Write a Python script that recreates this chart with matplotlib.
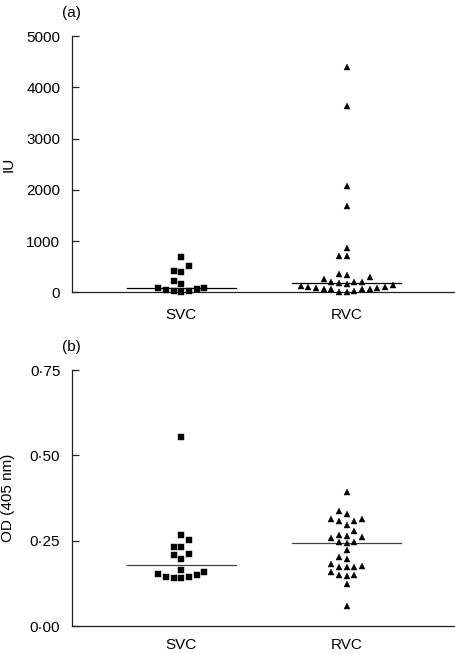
import numpy as np
import matplotlib
matplotlib.use('Agg')
import matplotlib.pyplot as plt

plt.rcParams['font.family'] = ['Liberation Sans', 'DejaVu Sans']
plt.rcParams['font.size'] = 11

groups = ['SVC', 'RVC']

# (a) IU
iu_svc = [694, 519, 421, 390, 220, 168, 78, 75, 19, 6, 19, 39, 64]
iu_rvc = [4401, 3634, 2074, 1684, 858, 708, 708, 337, 351, 292, 253,
          207, 175, 162, 195, 207, 142, 129, 97, 90, 71, 64,
          25, 12, 12, 64, 71, 78, 97]

# (b) OD (405 nm)
od_svc = [0.555, 0.267, 0.252, 0.232, 0.232, 0.208, 0.212, 0.195,
          0.157, 0.149, 0.145, 0.141, 0.141, 0.145, 0.152, 0.164]
od_rvc = [0.394, 0.337, 0.327, 0.313, 0.308, 0.309, 0.313, 0.295,
          0.279, 0.267, 0.265, 0.259, 0.260, 0.245, 0.243, 0.246,
          0.222, 0.203, 0.195, 0.172, 0.182, 0.176, 0.172, 0.172,
          0.157, 0.149, 0.149, 0.147, 0.123, 0.060]

iu_ticks = [0, 1000, 2000, 3000, 4000, 5000]
iu_labels = ['0', '1000', '2000', '3000', '4000', '5000']
od_ticks = [0, 0.25, 0.5, 0.75]
od_labels = ['0\u00b700', '0\u00b725', '0\u00b750', '0\u00b775']


def swarm_cols(vals, px_per_unit, d=7.0):
    # greedy column placement, like a column scatter plot
    vals = np.asarray(vals, float)
    order = np.argsort(vals)
    cols = {}
    out = np.zeros(len(vals))
    tries = [0]
    for k in range(1, 15):
        tries += [-k, k]
    for i in order:
        y = vals[i] * px_per_unit
        for k in tries:
            if all(abs(y - yy) >= d for yy in cols.get(k, [])):
                cols.setdefault(k, []).append(y)
                out[i] = k
                break
    return out


def panel(ax, data, markers, ylim, ticks, labels, ylabel, tag, line_col, xpad):
    ax.set_xlim(-0.66, 1.66)
    ax.set_ylim(*ylim)
    px_y = ax.bbox.height / (ylim[1] - ylim[0])
    px_x = ax.bbox.width / 2.32
    step = 7.67 / px_x
    for i, (vals, m) in enumerate(zip(data, markers)):
        off = swarm_cols(vals, px_y)
        ms = 4.3 if m == 's' else 4.6
        ax.plot(i + off * step, vals, linestyle='none', marker=m, ms=ms,
                color='black', mec='black', mew=0.3, clip_on=False, zorder=3)
        med = np.median(vals)
        ax.plot([i - 0.33, i + 0.33], [med, med], color=line_col, lw=0.9, zorder=2)
    for s in ['top', 'right']:
        ax.spines[s].set_visible(False)
    for s in ['left', 'bottom']:
        ax.spines[s].set_linewidth(0.9)
        ax.spines[s].set_color('#222222')
    ax.set_yticks(ticks)
    ax.set_yticklabels(labels)
    ax.set_xticks([0, 1])
    ax.set_xticklabels(groups)
    ax.tick_params(axis='y', direction='in', length=5, width=0.9, pad=8.4,
                   color='#222222')
    ax.tick_params(axis='x', length=0, pad=xpad)
    ax.set_ylabel(ylabel)
    ax.yaxis.set_label_coords(-0.148, 0.5)
    ax.text(-0.026, 1.09, tag, transform=ax.transAxes, ha='left', va='center')


fig = plt.figure(figsize=(4.56, 6.54), dpi=100)
W, H = 456, 654
ax_a = fig.add_axes([72 / W, 1 - 292.3 / H, 384 / W, 256.3 / H])
ax_b = fig.add_axes([72 / W, 1 - 626 / H, 384 / W, 256 / H])

panel(ax_a, [iu_svc, iu_rvc], ['s', '^'], (0, 5000), iu_ticks, iu_labels,
      'IU', '(a)', 'black', 11)
panel(ax_b, [od_svc, od_rvc], ['s', '^'], (0, 0.75), od_ticks, od_labels,
      'OD (405 nm)', '(b)', '#444444', 8.5)

fig.savefig('out.png', dpi=100)
